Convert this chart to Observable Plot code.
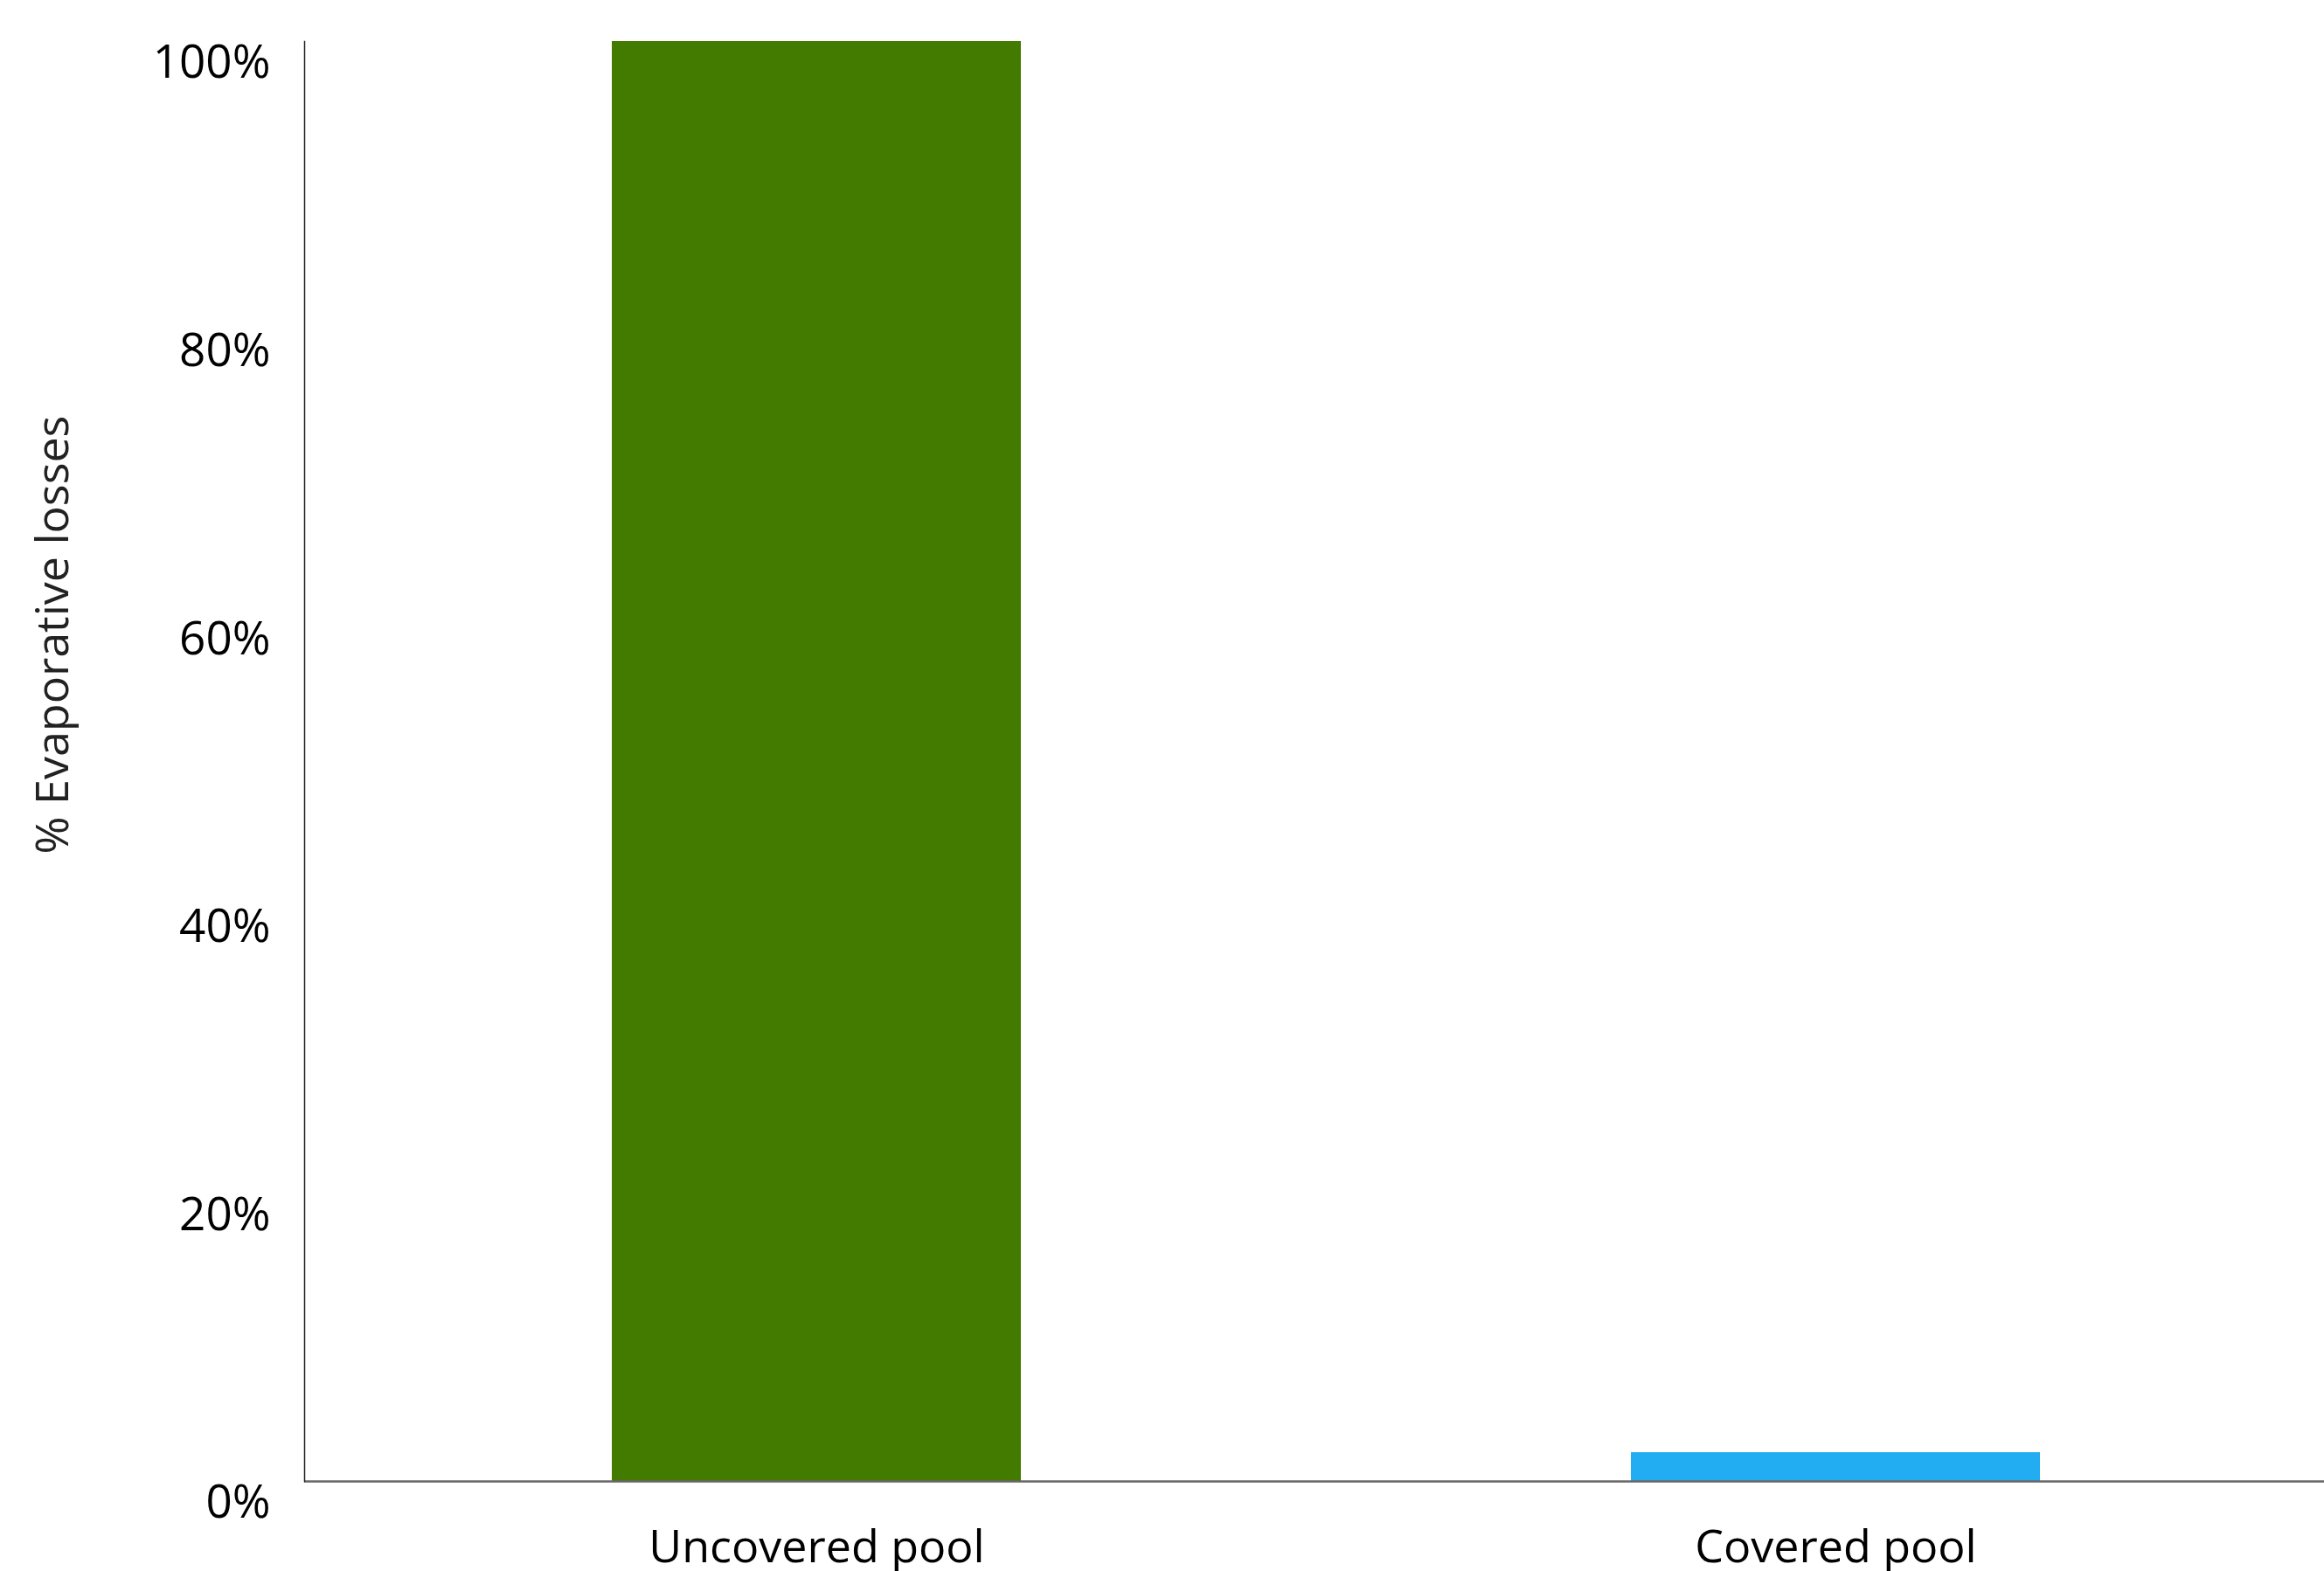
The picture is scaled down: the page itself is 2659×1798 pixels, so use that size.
<!DOCTYPE html>
<html>
<head>
<meta charset="utf-8">
<script src="https://cdn.jsdelivr.net/npm/d3@7"></script>
<script src="https://cdn.jsdelivr.net/npm/@observablehq/plot@0.6"></script>
<style>
  html, body { margin: 0; padding: 0; background: #fff; }
  #chart svg { display: block; }
</style>
</head>
<body>
<div id="chart"></div>
<script>
const categories = ["Uncovered pool", "Covered pool"];
const values = [100, 2];
const colors = ["#437a00", "#22adf3"];
const yTicks = [0, 20, 40, 60, 80, 100];
const yLabel = "% Evaporative losses";

const data = categories.map((c, i) => ({category: c, value: values[i], color: colors[i]}));

const chart = Plot.plot({
  width: 2659,
  height: 1798,
  marginLeft: 348,
  marginRight: 0,
  marginTop: 47,
  marginBottom: 103,
  style: {fontFamily: "'Open Sans', sans-serif", background: "white", color: "#000"},
  x: {domain: categories, paddingInner: 0.599, paddingOuter: 0.29, align: 0.52, label: null},
  y: {domain: [0, 100], label: null},
  color: {type: "identity"},
  marks: [
    Plot.barY(data, {x: "category", y: "value", fill: "color"}),
    Plot.ruleY([0], {stroke: "#666", strokeWidth: 2.5}),
    Plot.frame({anchor: "left", stroke: "#222", strokeWidth: 1.5}),
    Plot.axisY({ticks: yTicks, tickSize: 0, tickPadding: 39, tickFormat: d => d + "%", fontSize: 53, dy: 25, fill: "#000", label: null}),
    Plot.axisX({tickSize: 0, tickPadding: 56, fontSize: 52, fill: "#000", label: null}),
    Plot.text([yLabel], {text: d => d, frameAnchor: "left", textAnchor: "middle", rotate: -90, dx: 61 - 348, dy: 726 - 871, fontSize: 52, fill: "#222"})
  ]
});
document.getElementById("chart").appendChild(chart);
</script>
</body>
</html>
